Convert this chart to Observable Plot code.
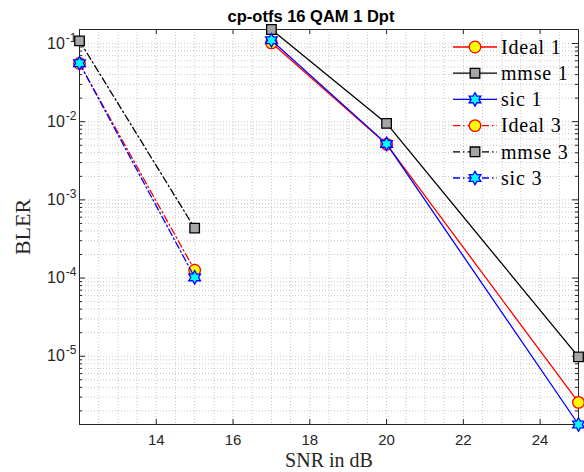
<!DOCTYPE html>
<html><head><meta charset="utf-8">
<script src="https://cdn.jsdelivr.net/npm/d3@7"></script>
<script src="https://cdn.jsdelivr.net/npm/@observablehq/plot@0.6"></script>
<style>
body{margin:0;background:#fff}
#chart{width:584px;height:472px}
</style>
</head><body><div id="chart"></div>
<script>
// ---- texts ----
const title = "cp-otfs 16 QAM 1 Dpt";
const xLabel = "SNR in dB";
const yLabel = "BLER";
const seriesNames = ["Ideal 1", "mmse 1", "sic 1", "Ideal 3", "mmse 3", "sic 3"];

// ---- data ----
const snr1 = [17, 20, 25];
const ideal1 = [0.102, 0.00515, 2.57e-6];
const mmse1 = [0.151, 0.0095, 9.8e-6];
const sic1 = [0.110, 0.0052, 1.34e-6];

const snr3 = [12, 15];
const ideal3 = [0.0555, 1.26e-4];
const mmse3 = [0.108, 4.35e-4];
const sic3 = [0.056, 1.02e-4];

// ---- ticks ----
const xTicks = [14, 16, 18, 20, 22, 24];
const yTicks = [1e-1, 1e-2, 1e-3, 1e-4, 1e-5];

// ---- hexagram symbol ----
const hexagram = {
  draw(ctx, size) {
    const R = Math.sqrt(size / Math.PI) * 1.12, r = R / Math.sqrt(3);
    for (let i = 0; i < 12; i++) {
      const a = i * Math.PI / 6 - Math.PI / 2, rad = i % 2 === 0 ? R : r;
      const px = rad * Math.cos(a), py = rad * Math.sin(a);
      i ? ctx.lineTo(px, py) : ctx.moveTo(px, py);
    }
    ctx.closePath();
  }
};

const dashDot = "7,3,1.5,3";
const styles = [
  {stroke: "#ff0000", fill: "#ffff00", symbol: "circle", r: 5.8, dash: null},
  {stroke: "#000000", fill: "#a6a6a6", symbol: "square", r: 5.4, dash: null},
  {stroke: "#0000ff", fill: "#00ffff", symbol: hexagram, r: 6, dash: null},
  {stroke: "#ff0000", fill: "#ffff00", symbol: "circle", r: 5.8, dash: dashDot},
  {stroke: "#000000", fill: "#a6a6a6", symbol: "square", r: 5.4, dash: dashDot},
  {stroke: "#0000ff", fill: "#00ffff", symbol: hexagram, r: 6, dash: dashDot}
];
const xs = [snr1, snr1, snr1, snr3, snr3, snr3];
const ys = [ideal1, mmse1, sic1, ideal3, mmse3, sic3];
const series = seriesNames.map((name, i) => ({
  name, ...styles[i],
  data: xs[i].map((x, j) => ({x, y: ys[i][j]}))
}));

const allX = xs.flat(), allY = ys.flat();
const xDomain = d3.extent(allX), yDomain = d3.extent(allY);

const W = 584, H = 472, ML = 79, MR = 6, MT = 29, MB = 48;
const PW = W - ML - MR, PH = H - MT - MB;

// grid values
const xMinor = d3.range(xDomain[0], xDomain[1] + 1e-9, 0.5).filter(v => v > xDomain[0] && v < xDomain[1]);
const yMinor = [];
for (let e = -7; e <= 0; e++) for (let k = 1; k <= 9; k++) {
  const v = k * Math.pow(10, e);
  if (v > yDomain[0] && v < yDomain[1]) yMinor.push(v);
}
const yMinorOnly = yMinor.filter(v => !yTicks.some(t => Math.abs(t - v) / t < 1e-9));

const gridStyle = {stroke: "#c8c8c8", strokeWidth: 1, strokeDasharray: "1,2"};
const tickStyle = {stroke: "#262626", strokeWidth: 1};

const marks = [
  Plot.ruleX(xMinor, {x: d => d, ...gridStyle}),
  Plot.ruleY(yMinor, {y: d => d, ...gridStyle}),
  Plot.frame({stroke: "#262626", strokeWidth: 1}),
  // inward ticks
  Plot.tickX(xTicks, {x: d => d, insetTop: PH - 5, ...tickStyle}),
  Plot.tickX(xTicks, {x: d => d, insetBottom: PH - 5, ...tickStyle}),
  Plot.tickY(yTicks, {y: d => d, insetRight: PW - 6, ...tickStyle}),
  Plot.tickY(yTicks, {y: d => d, insetLeft: PW - 6, ...tickStyle}),
  Plot.tickY(yMinorOnly, {y: d => d, insetRight: PW - 3, ...tickStyle}),
  Plot.tickY(yMinorOnly, {y: d => d, insetLeft: PW - 3, ...tickStyle}),
  Plot.axisX({ticks: xTicks, tickSize: 0, tickPadding: 10, fontSize: 15, label: null, tickFormat: d => String(d)}),
  Plot.axisY({ticks: yTicks, tickSize: 0, tickPadding: 3, fontSize: 16, label: null,
    tickFormat: d => "10^" + Math.round(Math.log10(d))}),
  Plot.text([title], {frameAnchor: "top", dx: -18, dy: -12.5, lineAnchor: "middle", fontSize: 16.5, fontWeight: "bold", fill: "#000"}),
  Plot.text([xLabel], {frameAnchor: "bottom", dy: 36, lineAnchor: "middle", textAnchor: "middle", fontSize: 20, fontFamily: "Liberation Serif", fill: "#262626"}),
  Plot.text([yLabel], {frameAnchor: "left", dx: -57, rotate: -90, lineAnchor: "middle", textAnchor: "middle", fontSize: 22, fontFamily: "Liberation Serif", fill: "#262626"})
];
for (const s of series) {
  marks.push(Plot.line(s.data, {x: "x", y: "y", stroke: s.stroke, strokeWidth: 1.3, strokeDasharray: s.dash || undefined}));
  marks.push(Plot.dot(s.data, {x: "x", y: "y", r: s.r, symbol: s.symbol, fill: s.fill, stroke: s.stroke, strokeWidth: 1.3}));
}

const svg = Plot.plot({
  width: W, height: H,
  marginLeft: ML, marginRight: MR, marginTop: MT, marginBottom: MB,
  style: {fontFamily: "Liberation Sans, Arial, sans-serif", background: "#fff", color: "#262626", overflow: "visible"},
  x: {domain: xDomain, axis: null},
  y: {type: "log", domain: yDomain, axis: null},
  marks
});

// superscript exponents on y tick labels
d3.select(svg).selectAll('[aria-label="y-axis tick label"] text').each(function() {
  const t = this.textContent;
  const parts = t.split("^");
  if (parts.length === 2) {
    const sel = d3.select(this);
    sel.text(parts[0]);
    sel.append("tspan").attr("dy", -7).attr("dx", 1).attr("font-size", 12).text(parts[1]);
  }
});

// legend (inside the axes, top right, no box)
const lg = d3.select(svg).append("g").attr("aria-label", "legend").attr("text-anchor", "start");
const rowY0 = 47, rowStep = 26.2, lx0 = 453, lx1 = 497, mx = 475, tx = 501;
series.forEach((s, i) => {
  const y = rowY0 + i * rowStep;
  lg.append("line").attr("x1", lx0).attr("x2", lx1).attr("y1", y).attr("y2", y)
    .attr("stroke", s.stroke).attr("stroke-width", 1.3)
    .attr("stroke-dasharray", s.dash || null);
  const type = s.symbol === "circle" ? d3.symbolCircle : s.symbol === "square" ? d3.symbolSquare : s.symbol;
  lg.append("path").attr("d", d3.symbol(type, Math.PI * s.r * s.r)())
    .attr("transform", `translate(${mx},${y})`)
    .attr("fill", s.fill).attr("stroke", s.stroke).attr("stroke-width", 1.3);
  lg.append("text").attr("x", tx).attr("y", y).attr("dy", "0.34em")
    .attr("text-anchor", "start")
    .attr("font-family", "Liberation Serif").attr("font-size", 20)
    .attr("letter-spacing", "0.8px")
    .attr("fill", "#000").text(s.name);
});

document.getElementById("chart").append(svg);
</script>
</body></html>
